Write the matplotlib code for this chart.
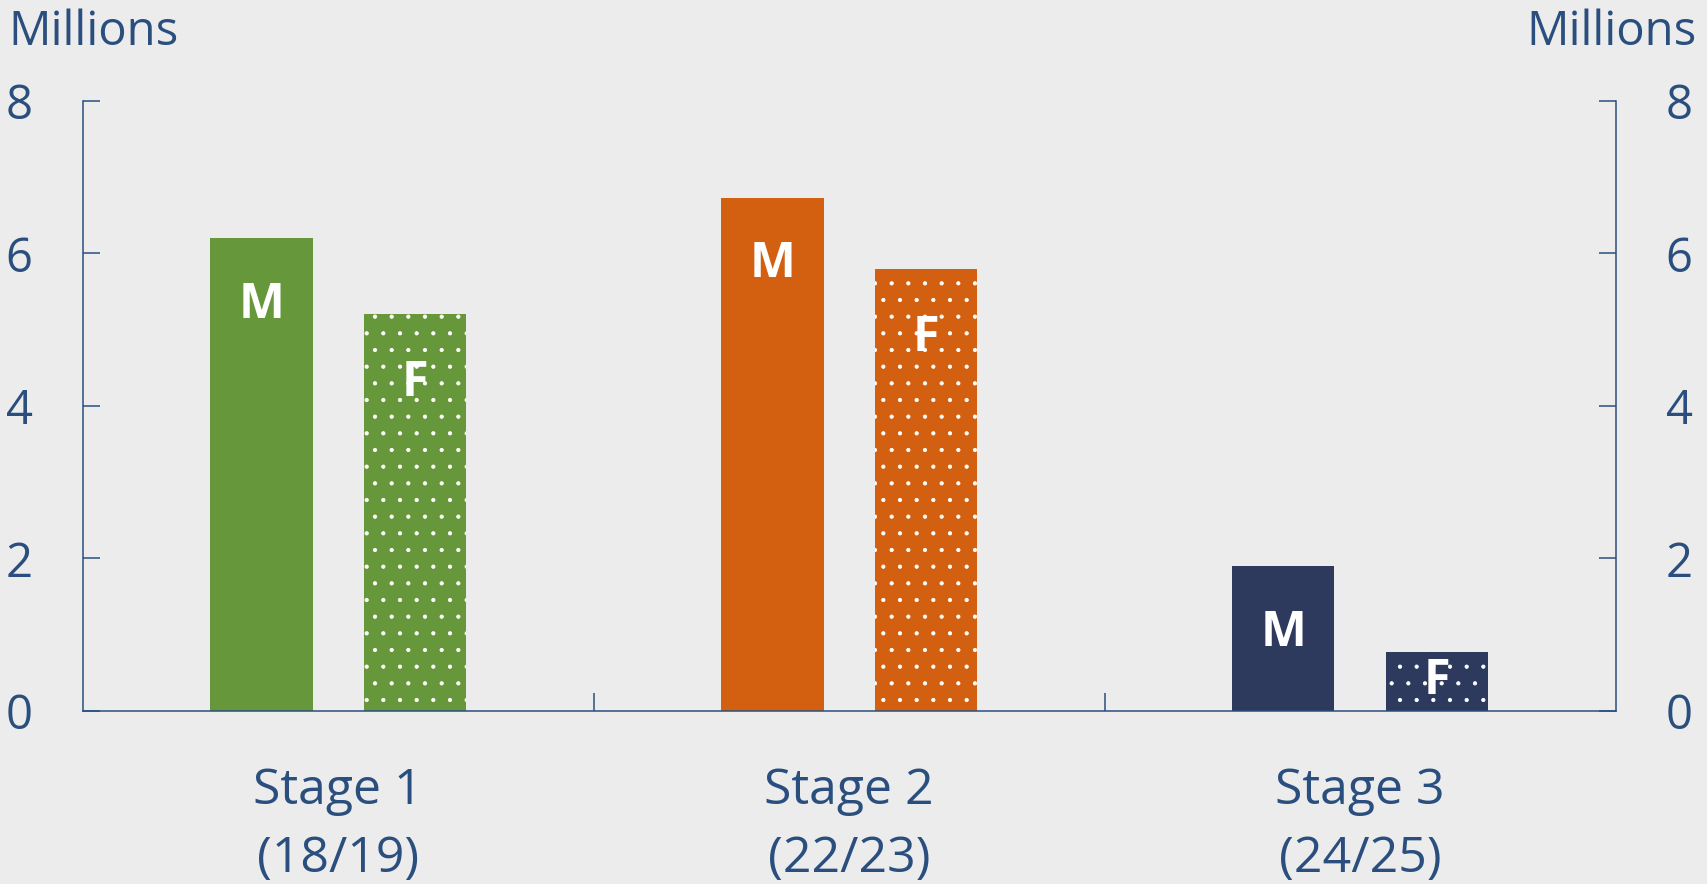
import numpy as np
import matplotlib.pyplot as plt

stages = ["Stage 1\n(18/19)", "Stage 2\n(22/23)", "Stage 3\n(24/25)"]
male = [6.2, 6.73, 1.9]
female = [5.21, 5.8, 0.77]
colors = ["#66973a", "#d35f10", "#2d3a5e"]
yticks = [0, 2, 4, 6, 8]

txt = "#2a4f7e"
bg = "#ececec"
plt.rcParams['font.family'] = ['Open Sans', 'DejaVu Sans']
plt.rcParams['hatch.color'] = 'white'
plt.rcParams['hatch.linewidth'] = 0.6

fig = plt.figure(figsize=(17.07, 8.84), dpi=100, facecolor=bg)
ax = fig.add_axes([0.0484, 0.1957, 0.898, 0.6904], facecolor=bg)

x = np.arange(len(stages))
w = 0.2
ax.bar(x - 0.15, male, width=w, color=colors, linewidth=0)
ax.bar(x + 0.15, female, width=w, color=colors, linewidth=0, hatch='.')

# M / F labels inside bars
for i in range(len(stages)):
    ax.text(x[i] - 0.15, max(male[i] - 0.88, male[i] / 2), "M", color="white",
            fontsize=35, fontweight="bold", ha="center", va="center")
    ax.text(x[i] + 0.15, max(female[i] - 0.92, female[i] / 2), "F", color="white",
            fontsize=35, fontweight="bold", ha="center", va="center")

ax.set_xlim(-0.5, 2.5)
ax.set_ylim(0, 8)
ax.set_yticks(yticks)
ax.set_xticks(x)
ax.set_xticklabels(stages, fontsize=36, color=txt, linespacing=1.5)
ax.set_xticks([0.5, 1.5], minor=True)
ax.tick_params(axis='x', which='major', length=0, pad=40)
ax.tick_params(axis='x', which='minor', direction='in', length=13, width=1.1, color=txt)
ax.tick_params(axis='y', direction='in', length=12, width=1.1, color=txt,
               labelsize=34, labelcolor=txt, pad=36, left=True, right=True,
               labelleft=True, labelright=True)
for s in ['left', 'right', 'bottom']:
    ax.spines[s].set_color(txt)
    ax.spines[s].set_linewidth(1.1)
ax.spines['top'].set_visible(False)

fig.text(0.005, 0.99, "Millions", fontsize=34, color=txt, ha="left", va="top")
fig.text(0.994, 0.99, "Millions", fontsize=34, color=txt, ha="right", va="top")

fig.savefig("out.png", dpi=100, facecolor=bg)
